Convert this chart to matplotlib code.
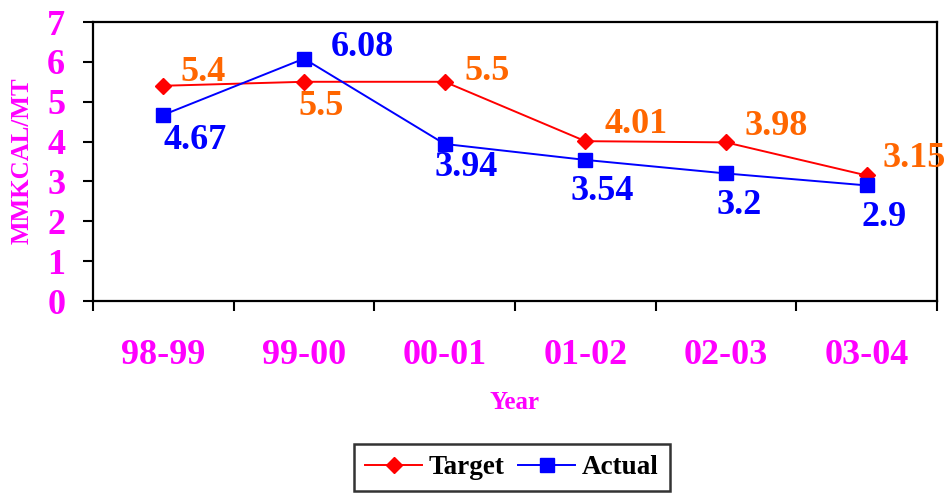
import matplotlib
matplotlib.use("Agg")
import matplotlib.pyplot as plt
import numpy as np

years = ["98-99", "99-00", "00-01", "01-02", "02-03", "03-04"]
target = [5.4, 5.5, 5.5, 4.01, 3.98, 3.15]
actual = [4.67, 6.08, 3.94, 3.54, 3.2, 2.9]
target_labels = ["5.4", "5.5", "5.5", "4.01", "3.98", "3.15"]
actual_labels = ["4.67", "6.08", "3.94", "3.54", "3.2", "2.9"]

# label offsets in pixels (dx, dy)
target_off = [(40, 13), (17, -25), (42, 10), (51, 17), (50, 16), (48, 17)]
actual_off = [(32, -26), (58, 11), (21, -24), (17, -32), (13, -32), (17, -32)]

plt.rcParams['font.family'] = ['Liberation Serif', 'DejaVu Serif']
plt.rcParams['font.weight'] = 'bold'

MAG = "#FF00FF"
ORANGE = "#FF6600"

fig = plt.figure(figsize=(9.51, 4.98), dpi=100)
ax = fig.add_axes([93/951, 1-301/498, (937-93)/951, (301-22)/498])

x = np.arange(len(years))
ax.plot(x, target, color="#FF0000", marker="D", markersize=8.5, lw=1.4, label="Target")
ax.plot(x, actual, color="#0000FF", marker="s", markersize=10.5, lw=1.4, label="Actual")

for xi, v, s, off in zip(x, target, target_labels, target_off):
    ax.annotate(s, (xi, v), xytext=off, textcoords="offset pixels",
                ha="center", va="center", color=ORANGE, fontsize=26,
                fontweight="bold", annotation_clip=False)
for xi, v, s, off in zip(x, actual, actual_labels, actual_off):
    ax.annotate(s, (xi, v), xytext=off, textcoords="offset pixels",
                ha="center", va="center", color="#0000FF", fontsize=26,
                fontweight="bold", annotation_clip=False)

ax.set_xlim(-0.5, len(years) - 0.5)
ax.set_ylim(0, 7)
ax.set_yticks(range(0, 8))
ax.set_xticks(x)
ax.set_xticklabels(years)
ax.set_xticks(np.arange(-0.5, len(years), 1.0), minor=True)
ax.tick_params(axis="x", which="major", length=0, pad=27, labelsize=26, labelcolor=MAG)
ax.tick_params(axis="x", which="minor", length=7, width=1.5, direction="out")
ax.tick_params(axis="y", which="major", length=7, width=1.5, direction="out",
               pad=13, labelsize=26, labelcolor=MAG)
for lab in ax.get_xticklabels() + ax.get_yticklabels():
    lab.set_fontweight("bold")

for sp in ax.spines.values():
    sp.set_color("black")
    sp.set_linewidth(1.6)

fig.text(22/951, 1-161/498, "MMKCAL/MT", rotation=90, ha="center", va="center",
         color=MAG, fontsize=18, fontweight="bold")
fig.text(515/951, 1-402/498, "Year", ha="center", va="center",
         color=MAG, fontsize=18, fontweight="bold")

leg = fig.legend(loc="center", bbox_to_anchor=(512/951, 1-467.5/498), ncol=2,
                 frameon=True, fancybox=False, edgecolor="black",
                 prop={"size": 19.5, "weight": "bold"}, handlelength=2.1,
                 columnspacing=0.5, handletextpad=0.25, borderpad=0.4)
leg.get_frame().set_linewidth(1.8)

fig.savefig("out.png", dpi=100)
